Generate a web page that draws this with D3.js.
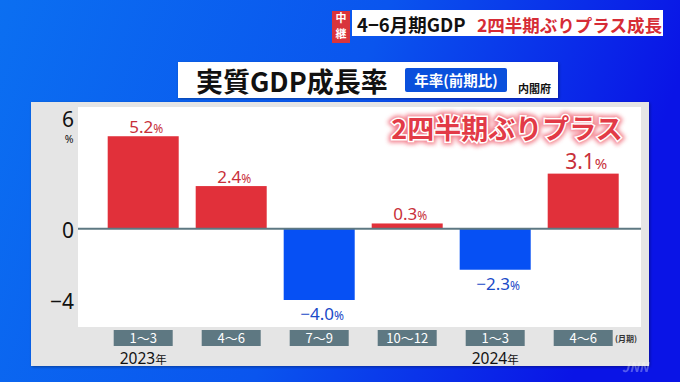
<!DOCTYPE html>
<html lang="ja">
<head>
<meta charset="utf-8">
<style>
    body { margin: 0; padding: 0; overflow: hidden; }
    text { font-family: "Noto Sans CJK JP", "Noto Sans", sans-serif; }
    text.num { font-family: "Noto Sans", "Noto Sans CJK JP", sans-serif; }
</style>
</head>
<body>
<svg id="chart"></svg>
<script src="https://d3js.org/d3.v7.min.js"></script>
<script>

    // data
    var quarters = ["1～3", "4～6", "7～9", "10～12", "1～3", "4～6"];
    var growth = [5.2, 2.4, -4.0, 0.3, -2.3, 3.1];
    var yearLabels = ["2023", "2024"];
    var yearAt = [0, 4];
    var yTicks = [6, 0, -4];

    var width = 680, height = 382;
    var svg = d3.select("#chart").attr("width", width).attr("height", height);
    var defs = svg.append("defs");

    // blue background
    var bg = defs.append("linearGradient").attr("id", "bg")
        .attr("x1", "0%").attr("y1", "0%").attr("x2", "100%").attr("y2", "20%");
    bg.append("stop").attr("offset", "0%").attr("stop-color", "#0b6ff1");
    bg.append("stop").attr("offset", "55%").attr("stop-color", "#0a55ee");
    bg.append("stop").attr("offset", "100%").attr("stop-color", "#0a14e6");
    svg.append("rect").attr("width", width).attr("height", height).attr("fill", "url(#bg)");

    var glow = defs.append("filter").attr("id", "glow")
        .attr("x", "-20%").attr("y", "-50%").attr("width", "140%").attr("height", "200%");
    glow.append("feGaussianBlur").attr("stdDeviation", 2.2);

    var shadow = defs.append("filter").attr("id", "shadow")
        .attr("x", "-5%").attr("y", "-5%").attr("width", "110%").attr("height", "110%");
    shadow.append("feDropShadow").attr("dx", 1).attr("dy", 1).attr("stdDeviation", 1.5)
        .attr("flood-color", "#000").attr("flood-opacity", 0.35);

    // top banner
    svg.append("rect").attr("x", 332).attr("y", 11).attr("width", 18).attr("height", 32)
        .attr("fill", "#d9343c");
    svg.append("text").attr("x", 341).attr("y", 22).attr("text-anchor", "middle")
        .attr("font-size", 11).attr("font-weight", 700).attr("fill", "#fff").text("中");
    svg.append("text").attr("x", 341).attr("y", 38).attr("text-anchor", "middle")
        .attr("font-size", 11).attr("font-weight", 700).attr("fill", "#fff").text("継");
    svg.append("rect").attr("x", 352).attr("y", 10).attr("width", 311).attr("height", 26)
        .attr("fill", "#fff");
    svg.append("text").attr("x", 357).attr("y", 32)
        .attr("font-size", 18.5).attr("font-weight", 700).attr("fill", "#111")
        .text("4−6月期GDP");
    svg.append("text").attr("x", 477).attr("y", 32)
        .attr("font-size", 17.5).attr("font-weight", 700).attr("fill", "#d62c36")
        .text("2四半期ぶりプラス成長");

    // gray panel and white plot area
    svg.append("rect").attr("x", 31).attr("y", 102).attr("width", 618).attr("height", 264)
        .attr("fill", "#e5e5e5").attr("filter", "url(#shadow)");
    svg.append("rect").attr("x", 78).attr("y", 107).attr("width", 563).attr("height", 220)
        .attr("fill", "#fff");

    // title box
    svg.append("rect").attr("x", 178).attr("y", 62).attr("width", 380).attr("height", 36)
        .attr("fill", "#fff").attr("filter", "url(#shadow)");
    svg.append("text").attr("x", 196).attr("y", 92)
        .attr("font-size", 27).attr("font-weight", 700).attr("fill", "#111")
        .text("実質GDP成長率");
    svg.append("rect").attr("x", 405).attr("y", 68).attr("width", 102).attr("height", 24)
        .attr("rx", 2).attr("fill", "#0a50dc");
    svg.append("text").attr("x", 456).attr("y", 85.5).attr("text-anchor", "middle")
        .attr("font-size", 14.5).attr("font-weight", 700).attr("fill", "#fff")
        .text("年率(前期比)");
    svg.append("text").attr("x", 518).attr("y", 93)
        .attr("font-size", 11).attr("font-weight", 700).attr("fill", "#111")
        .text("内閣府");

    // scales
    var x = d3.scaleBand().domain(d3.range(quarters.length))
        .range([99.2, 627.2]).paddingInner(0.193).paddingOuter(0.0965);
    var y = d3.scaleLinear().domain([-4, 6]).range([300, 122]);

    // bars
    svg.append("g").selectAll("rect")
        .data(growth)
        .enter()
        .append("rect")
        .attr("x", function (d, i) { return x(i); })
        .attr("width", x.bandwidth())
        .attr("y", function (d) { return y(Math.max(0, d)); })
        .attr("height", function (d) { return Math.abs(y(d) - y(0)); })
        .attr("fill", function (d) { return d >= 0 ? "#e1303a" : "#0650f4"; });

    // zero line
    svg.append("line").attr("x1", 78).attr("x2", 641)
        .attr("y1", y(0)).attr("y2", y(0))
        .attr("stroke", "#5e7882").attr("stroke-width", 2);

    // value labels
    var fmt = function (d) { return (d < 0 ? "−" : "") + Math.abs(d).toFixed(1); };
    var last = growth.length - 1;
    var vl = svg.append("g").selectAll("text")
        .data(growth)
        .enter()
        .append("text")
        .attr("class", "num")
        .attr("x", function (d, i) { return x(i) + x.bandwidth() / 2 + 3; })
        .attr("y", function (d, i) {
            if (d < 0) return y(d) + 20;
            return y(d) - (i == last ? 4.7 : 3.5);
        })
        .attr("text-anchor", "middle")
        .attr("font-size", function (d, i) { return i == last ? 21 : 17; })
        .attr("fill", function (d) { return d >= 0 ? "#c8303a" : "#1a4ac8"; });
    vl.append("tspan").text(function (d) { return fmt(d); });
    vl.append("tspan")
        .attr("font-size", function (d, i) { return i == last ? 15 : 12; })
        .text("%");

    // y tick labels
    svg.append("g").selectAll("text")
        .data(yTicks)
        .enter()
        .append("text")
        .attr("class", "num")
        .attr("x", 74)
        .attr("y", function (d) { return y(d) + (d > 0 ? 5 : 9); })
        .attr("text-anchor", "end")
        .attr("font-size", 21)
        .attr("fill", "#111")
        .text(function (d) { return d < 0 ? "−" + Math.abs(d) : d; });
    svg.append("text").attr("class", "num").attr("x", 69).attr("y", 143).attr("text-anchor", "middle")
        .attr("font-size", 10.5).attr("fill", "#111").text("%");

    // category boxes
    var cat = svg.append("g").selectAll("g")
        .data(quarters)
        .enter()
        .append("g")
        .attr("transform", function (d, i) { return "translate(" + (x(i) + x.bandwidth() / 2) + ",0)"; });
    cat.append("rect").attr("x", -29.5).attr("y", 330).attr("width", 59).attr("height", 16)
        .attr("fill", "#5e7882");
    cat.append("text").attr("y", 342.5).attr("text-anchor", "middle")
        .attr("font-size", 13).attr("fill", "#fff")
        .text(function (d) { return d; });
    svg.append("text").attr("x", 615).attr("y", 342)
        .attr("font-size", 8).attr("font-weight", 700).attr("fill", "#333").text("(月期)");

    // year labels
    var yl = svg.append("g").selectAll("text")
        .data(yearLabels)
        .enter()
        .append("text")
        .attr("x", function (d, i) { return x(yearAt[i]) + x.bandwidth() / 2; })
        .attr("y", 364)
        .attr("text-anchor", "middle")
        .attr("fill", "#111");
    yl.append("tspan").attr("class", "num").attr("font-size", 15.5)
        .style("font-family", "'Noto Sans', sans-serif")
        .text(function (d) { return d; });
    yl.append("tspan").attr("font-size", 11.5).text("年");

    // overlay caption with glow
    var cap = "2四半期ぶりプラス";
    svg.append("text").attr("x", 507).attr("y", 139).attr("text-anchor", "middle")
        .attr("font-size", 27).attr("font-weight", 700)
        .attr("fill", "#f06070").attr("stroke", "#f06070").attr("stroke-width", 7)
        .attr("filter", "url(#glow)").attr("opacity", 0.8).text(cap);
    svg.append("text").attr("x", 507).attr("y", 139).attr("text-anchor", "middle")
        .attr("font-size", 27).attr("font-weight", 700)
        .attr("fill", "#e23a46").attr("stroke", "#fff").attr("stroke-width", 3)
        .attr("paint-order", "stroke").text(cap);

    // watermark
    svg.append("text").attr("x", 622).attr("y", 372)
        .attr("font-size", 13).attr("font-weight", 700).attr("font-style", "italic")
        .attr("fill", "#fff").attr("opacity", 0.3).text("JNN");

</script>
</body>
</html>
